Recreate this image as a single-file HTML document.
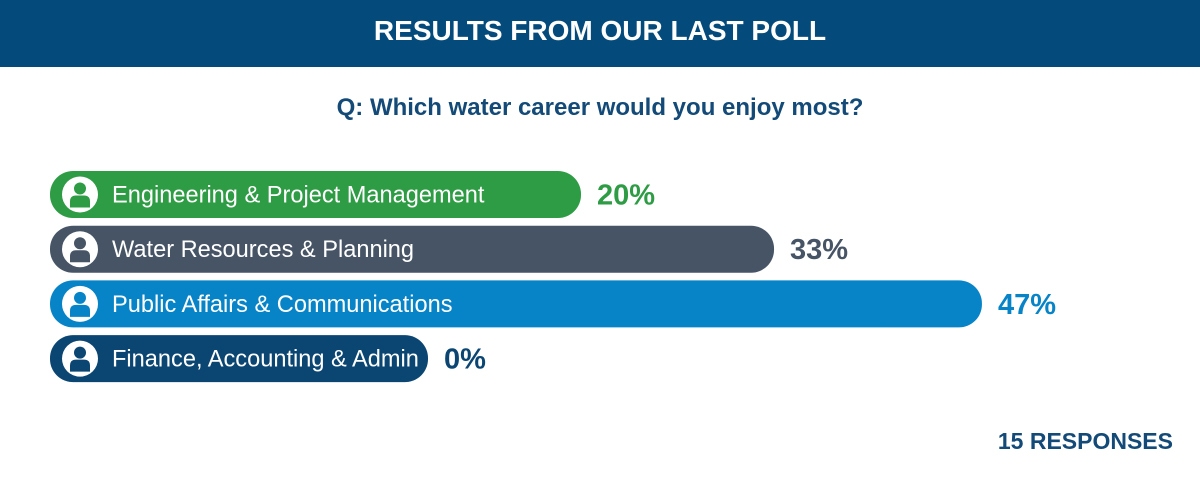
<!DOCTYPE html>
<html><head><meta charset="utf-8"><style>
body{margin:0;width:1200px;height:494px;background:#fff;font-family:"Liberation Sans",Arial,sans-serif;position:relative;overflow:hidden}
.hdr{position:absolute;left:0;top:0;width:1200px;height:67px;background:#044a7b;color:#fff;font-weight:bold;font-size:28px;text-align:center;line-height:62px}
.q{position:absolute;top:94px;width:1200px;text-align:center;color:#134a78;font-weight:bold;font-size:24px}
.resp{position:absolute;right:27px;top:428px;color:#134a78;font-weight:bold;font-size:23px}
</style></head><body>
<div class="hdr">RESULTS FROM OUR LAST POLL</div>
<div class="q">Q: Which water career would you enjoy most?</div>
<svg id="chart" width="1200" height="494" style="position:absolute;left:0;top:0"></svg>
<div class="resp">15 RESPONSES</div>
<script>
const categories=["Engineering & Project Management","Water Resources & Planning","Public Affairs & Communications","Finance, Accounting & Admin"];
const values=[20,33,47,0];
const valueLabels=["20%","33%","47%","0%"];
const colors=["#2e9c44","#465466","#0784c8","#0b4673"];
const labelColors=["#2e9c44","#465466","#0784c8","#0b4673"];
const svg=document.getElementById('chart');
const NS="http://www.w3.org/2000/svg";
function xw(p){return Math.max(378,234+14.85*p);}
function yb(i){return 171+i*54.7;}
categories.forEach((c,i)=>{
 const x=50,y=yb(i),h=47,w=xw(values[i]);
 const g=document.createElementNS(NS,'g');
 
 
 const r=document.createElementNS(NS,'rect');
 r.setAttribute('x',x);r.setAttribute('y',y);r.setAttribute('width',w);r.setAttribute('height',h);r.setAttribute('rx',23);r.setAttribute('fill',colors[i]);
 
 
 g.appendChild(r);
 const cx=80,cy=y+h/2;
 const ic=document.createElementNS(NS,'g');
 
 
 ic.innerHTML=`<circle cx="${cx}" cy="${cy}" r="18" fill="#fff"/><circle cx="${cx}" cy="${cy-6}" r="6" fill="${colors[i]}"/><path d="M${cx-10} ${cy+13} L${cx-10} ${cy+7} Q${cx-10} ${cy+1} ${cx-4} ${cy+1} L${cx+4} ${cy+1} Q${cx+10} ${cy+1} ${cx+10} ${cy+7} L${cx+10} ${cy+13} Z" fill="${colors[i]}"/>`;
 g.appendChild(ic);
 const t=document.createElementNS(NS,'text');
 t.setAttribute('x',112);t.setAttribute('y',cy+8);t.setAttribute('fill','#fff');t.setAttribute('font-size','23.6');
 
 
 t.textContent=c;g.appendChild(t);
 const v=document.createElementNS(NS,'text');
 v.setAttribute('x',x+w+16);v.setAttribute('y',cy+10);v.setAttribute('fill',labelColors[i]);v.setAttribute('font-size','29');v.setAttribute('font-weight','bold');
 
 
 v.textContent=valueLabels[i];g.appendChild(v);
 svg.appendChild(g);
});
</script>
</body></html>
